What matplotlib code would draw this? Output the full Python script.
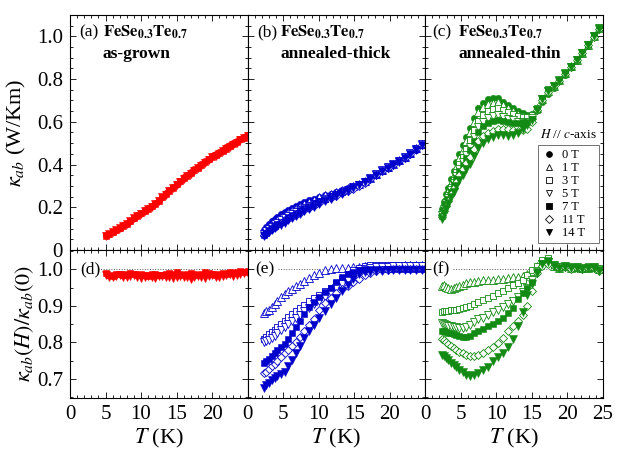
import matplotlib
matplotlib.use('Agg')
import matplotlib.pyplot as plt
from matplotlib.lines import Line2D
from matplotlib.ticker import MultipleLocator, FixedLocator

plt.rcParams['font.family'] = ['Liberation Serif', 'DejaVu Serif']
plt.rcParams['mathtext.fontset'] = 'stix'

fields = ['0 T', '1 T', '3 T', '5 T', '7 T', '11 T', '14 T']

# ---- (a)/(d) as-grown ----
T_a = [5.0, 5.5, 6.0, 6.5, 7.0, 7.5, 8.0, 8.5, 9.0, 9.5, 10.0, 10.5, 11.0, 11.5, 12.0, 12.5,
       13.0, 13.5, 14.0, 14.5, 15.0, 15.5, 16.0, 16.5, 17.0, 17.5, 18.0, 18.5, 19.0, 19.5,
       20.0, 20.5, 21.0, 21.5, 22.0, 22.5, 23.0, 23.5, 24.0, 24.5, 25.0]
k0_a = [0.068, 0.075, 0.085, 0.095, 0.105, 0.115, 0.125, 0.137, 0.150, 0.162, 0.175, 0.185,
        0.195, 0.207, 0.220, 0.235, 0.250, 0.265, 0.280, 0.295, 0.310, 0.325, 0.340, 0.352,
        0.365, 0.378, 0.390, 0.403, 0.415, 0.428, 0.440, 0.450, 0.460, 0.470, 0.480, 0.490,
        0.500, 0.510, 0.520, 0.530, 0.540]
r7_a = [0.990, 0.985, 0.983, 0.986, 0.988, 0.985, 0.987, 0.990, 0.986, 0.984, 0.988, 0.985,
        0.983, 0.986, 0.988, 0.985, 0.984, 0.987, 0.990, 0.986, 0.992, 0.988, 0.985, 0.987,
        0.990, 0.988, 0.985, 0.987, 0.992, 0.990, 0.986, 0.984, 0.988, 0.990, 0.987, 0.993,
        0.990, 0.992, 0.995, 0.993, 0.996]
r14_a = [0.985, 0.980, 0.978, 0.982, 0.984, 0.980, 0.978, 0.983, 0.985, 0.980, 0.976, 0.979,
         0.982, 0.980, 0.977, 0.981, 0.983, 0.978, 0.980, 0.976, 0.979, 0.982, 0.980, 0.978,
         0.975, 0.980, 0.983, 0.979, 0.977, 0.981, 0.985, 0.980, 0.978, 0.982, 0.984, 0.986,
         0.983, 0.985, 0.988, 0.990, 0.990]

# ---- (b)/(e) annealed-thick ----
T_b = [2.3, 2.6, 3.0, 3.4, 3.8, 4.2, 4.7, 5.2, 5.7, 6.2, 6.8, 7.4, 8.0, 8.7, 9.4, 10.1, 10.9,
       11.7, 12.5, 13.3, 14.1, 14.9, 15.7, 16.5, 17.3, 18.1, 18.9, 19.7, 20.5, 21.3, 22.1,
       22.9, 23.7, 24.5]
k0_b = [0.095, 0.108, 0.122, 0.135, 0.146, 0.156, 0.167, 0.178, 0.188, 0.197, 0.206, 0.215,
        0.223, 0.232, 0.240, 0.248, 0.256, 0.264, 0.272, 0.280, 0.289, 0.298, 0.308, 0.320,
        0.335, 0.352, 0.370, 0.385, 0.400, 0.415, 0.432, 0.450, 0.470, 0.490]
r1_b = [0.880, 0.885, 0.890, 0.896, 0.905, 0.914, 0.924, 0.933, 0.940, 0.947, 0.954, 0.961,
        0.969, 0.976, 0.984, 0.991, 0.997, 1.000, 1.003, 1.004, 1.005, 1.006, 1.007, 1.008,
        1.008, 1.008, 1.009, 1.010, 1.010, 1.010, 1.011, 1.011, 1.012, 1.012]
r3_b = [0.810, 0.816, 0.822, 0.828, 0.835, 0.842, 0.850, 0.860, 0.869, 0.877, 0.886, 0.895,
        0.903, 0.913, 0.922, 0.930, 0.940, 0.950, 0.962, 0.975, 0.988, 0.998, 1.005, 1.010,
        1.012, 1.011, 1.012, 1.012, 1.011, 1.012, 1.012, 1.011, 1.012, 1.012]
r5_b = [0.800, 0.803, 0.807, 0.812, 0.818, 0.825, 0.833, 0.842, 0.850, 0.858, 0.867, 0.876,
        0.885, 0.895, 0.905, 0.914, 0.925, 0.935, 0.948, 0.960, 0.972, 0.985, 0.995, 1.000,
        1.005, 1.006, 1.007, 1.007, 1.008, 1.008, 1.008, 1.009, 1.008, 1.009]
r7_b = [0.745, 0.750, 0.755, 0.762, 0.770, 0.778, 0.787, 0.797, 0.810, 0.825, 0.842, 0.860,
        0.878, 0.897, 0.912, 0.925, 0.938, 0.950, 0.965, 0.978, 0.988, 0.993, 0.998, 1.000,
        1.001, 1.000, 1.001, 1.002, 1.001, 1.002, 1.002, 1.001, 1.002, 1.002]
r11_b = [0.716, 0.720, 0.727, 0.735, 0.742, 0.750, 0.760, 0.770, 0.780, 0.790, 0.800, 0.814,
         0.830, 0.848, 0.865, 0.888, 0.908, 0.923, 0.935, 0.945, 0.955, 0.965, 0.975, 0.985,
         0.990, 0.995, 0.997, 0.999, 1.000, 1.001, 1.001, 1.002, 1.001, 1.002]
r14_b = [0.675, 0.683, 0.690, 0.697, 0.703, 0.708, 0.713, 0.720, 0.735, 0.752, 0.770, 0.790,
         0.812, 0.830, 0.848, 0.866, 0.887, 0.905, 0.923, 0.940, 0.957, 0.975, 0.988, 0.992,
         0.994, 0.995, 0.996, 0.997, 0.997, 0.998, 0.998, 0.998, 0.999, 0.999]

# ---- (c)/(f) annealed-thin ----
T_c = [2.3, 2.6, 2.9, 3.2, 3.6, 4.0, 4.4, 4.8, 5.3, 5.8, 6.3, 6.9, 7.5, 8.1, 8.8, 9.5, 10.2,
       10.9, 11.6, 12.3, 13.0, 13.7, 14.4, 15.1, 15.8, 16.5, 17.3, 18.1, 18.9, 19.7, 20.5,
       21.3, 22.1, 22.9, 23.7, 24.5]
k0_c = [0.19, 0.225, 0.26, 0.29, 0.33, 0.37, 0.41, 0.45, 0.49, 0.53, 0.57, 0.62, 0.665, 0.69,
        0.705, 0.71, 0.71, 0.695, 0.68, 0.665, 0.65, 0.64, 0.63, 0.635, 0.66, 0.695, 0.73,
        0.76, 0.79, 0.82, 0.855, 0.885, 0.92, 0.955, 0.995, 1.04]
r1_c = [0.955, 0.957, 0.952, 0.948, 0.945, 0.948, 0.952, 0.955, 0.958, 0.962, 0.965, 0.966,
        0.968, 0.970, 0.971, 0.972, 0.973, 0.975, 0.976, 0.978, 0.980, 0.983, 0.987, 0.995,
        1.010, 1.020, 1.020, 1.010, 1.005, 1.008, 1.005, 1.006, 1.004, 1.005, 1.006, 1.000]
r3_c = [0.884, 0.886, 0.885, 0.887, 0.888, 0.889, 0.890, 0.892, 0.893, 0.896, 0.900, 0.905,
        0.910, 0.915, 0.922, 0.928, 0.935, 0.940, 0.948, 0.956, 0.962, 0.972, 0.985, 0.998,
        1.010, 1.025, 1.030, 1.015, 1.010, 1.012, 1.008, 1.010, 1.006, 1.008, 1.010, 1.003]
r5_c = [0.852, 0.850, 0.848, 0.846, 0.845, 0.843, 0.842, 0.840, 0.840, 0.842, 0.848, 0.856,
        0.863, 0.868, 0.875, 0.882, 0.890, 0.898, 0.905, 0.913, 0.925, 0.937, 0.948, 0.970,
        0.995, 1.015, 1.020, 1.012, 1.006, 1.008, 1.004, 1.006, 1.002, 1.005, 1.006, 0.999]
r7_c = [0.832, 0.830, 0.828, 0.826, 0.825, 0.823, 0.821, 0.818, 0.816, 0.814, 0.818, 0.826,
        0.832, 0.838, 0.844, 0.850, 0.858, 0.868, 0.880, 0.895, 0.918, 0.935, 0.948, 0.965,
        0.995, 1.015, 1.025, 1.012, 1.005, 1.008, 1.004, 1.006, 1.002, 1.004, 1.006, 0.998]
r11_c = [0.810, 0.807, 0.800, 0.795, 0.790, 0.785, 0.780, 0.775, 0.770, 0.765, 0.762, 0.762,
         0.765, 0.770, 0.778, 0.787, 0.798, 0.812, 0.830, 0.845, 0.858, 0.875, 0.900, 0.940,
         0.990, 1.010, 1.015, 1.008, 1.003, 1.006, 1.002, 1.004, 1.000, 1.003, 1.004, 0.996]
r14_c = [0.766, 0.762, 0.757, 0.752, 0.745, 0.738, 0.732, 0.725, 0.718, 0.712, 0.707, 0.710,
         0.716, 0.724, 0.734, 0.748, 0.760, 0.772, 0.787, 0.810, 0.845, 0.884, 0.930, 0.960,
         0.990, 1.015, 1.020, 1.010, 1.004, 1.007, 1.003, 1.005, 1.000, 1.003, 1.005, 0.995]

styles = {
    '0 T': ('o', True, 4.6),
    '1 T': ('^', False, 5.2),
    '3 T': ('s', False, 4.2),
    '5 T': ('v', False, 5.2),
    '7 T': ('s', True, 4.6),
    '11 T': ('D', False, 4.0),
    '14 T': ('v', True, 5.4),
}

red, blue, green = '#ff0000', '#0000cc', '#138a13'

fig = plt.figure(figsize=(6.19, 4.54), dpi=100)
W, H = 619.0, 454.0
left0, pw = 70 / W, 177.6 / W
top_b, top_h = 1 - 250 / H, 235 / H
bot_b, bot_h = 1 - 398 / H, 148 / H

axes_top, axes_bot = [], []
for i in range(3):
    at = fig.add_axes([left0 + i * pw, top_b, pw, top_h])
    ab = fig.add_axes([left0 + i * pw, bot_b, pw, bot_h])
    axes_top.append(at)
    axes_bot.append(ab)


def draw(ax, T, vals, field, color):
    m, filled, ms = styles[field]
    if filled:
        ax.plot(T, vals, ls='none', marker=m, ms=ms, mfc=color, mec=color, mew=0.4)
    else:
        ax.plot(T, vals, ls='none', marker=m, ms=ms, mfc='white', mec=color, mew=0.6)


# (a)/(d)
draw(axes_top[0], T_a, k0_a, '0 T', red)
draw(axes_top[0], T_a, [k * r for k, r in zip(k0_a, r7_a)], '7 T', red)
draw(axes_top[0], T_a, [k * r for k, r in zip(k0_a, r14_a)], '14 T', red)
draw(axes_bot[0], T_a, r7_a, '7 T', red)
draw(axes_bot[0], T_a, r14_a, '14 T', red)

# (b)/(e)
ratios_b = {'1 T': r1_b, '3 T': r3_b, '5 T': r5_b, '7 T': r7_b, '11 T': r11_b, '14 T': r14_b}
draw(axes_top[1], T_b, k0_b, '0 T', blue)
for f in fields[1:]:
    draw(axes_top[1], T_b, [k * r for k, r in zip(k0_b, ratios_b[f])], f, blue)
    draw(axes_bot[1], T_b, ratios_b[f], f, blue)

# (c)/(f)
ratios_c = {'1 T': r1_c, '3 T': r3_c, '5 T': r5_c, '7 T': r7_c, '11 T': r11_c, '14 T': r14_c}
draw(axes_top[2], T_c, k0_c, '0 T', green)
for f in fields[1:]:
    draw(axes_top[2], T_c, [k * r for k, r in zip(k0_c, ratios_c[f])], f, green)
    draw(axes_bot[2], T_c, ratios_c[f], f, green)

tick_fs = 15
for i, (at, ab) in enumerate(zip(axes_top, axes_bot)):
    for ax in (at, ab):
        ax.set_xlim(0, 25)
        ax.xaxis.set_major_locator(MultipleLocator(5))
        ax.xaxis.set_minor_locator(MultipleLocator(1))
        ax.tick_params(which='both', direction='in', top=True, right=True, width=0.6,
                       labelsize=tick_fs, pad=5)
        ax.tick_params(which='major', length=4)
        ax.tick_params(which='minor', length=2.2)
        for s in ax.spines.values():
            s.set_linewidth(0.8)
    at.set_ylim(0, 1.1)
    at.yaxis.set_major_locator(FixedLocator([0, 0.2, 0.4, 0.6, 0.8, 1.0]))
    at.yaxis.set_minor_locator(MultipleLocator(0.05))
    ab.set_ylim(0.648, 1.053)
    ab.yaxis.set_major_locator(FixedLocator([0.7, 0.8, 0.9, 1.0]))
    ab.yaxis.set_minor_locator(MultipleLocator(0.05))
    at.tick_params(labelbottom=False)
    if i < 2:
        ab.set_xticks([0, 5, 10, 15, 20])
        ab.xaxis.set_minor_locator(MultipleLocator(1))
    else:
        ab.set_xticks([0, 5, 10, 15, 20, 25])
    if i > 0:
        at.tick_params(labelleft=False)
        ab.tick_params(labelleft=False)
    ab.set_xlabel(r'$T$ (K)', fontsize=16, labelpad=2)

axes_top[0].set_yticklabels(['0', '0.2', '0.4', '0.6', '0.8', '1.0'])
axes_bot[0].set_yticklabels(['0.7', '0.8', '0.9', '1.0'])
axes_top[0].set_ylabel(r'$\kappa_{ab}$ (W/Km)', fontsize=16)
axes_bot[0].set_ylabel(r'$\kappa_{ab}(H)/\kappa_{ab}(0)$', fontsize=16)
axes_top[0].yaxis.set_label_coords(-0.236, 0.5)
axes_bot[0].yaxis.set_label_coords(-0.19, 0.5)

# panel annotations
ann_fs = 12.5
labels = [('(a)', 'as-grown', 0.05), ('(b)', 'annealed-thick', 0.055), ('(c)', 'annealed-thin', 0.041)]
for ax, (lab, sub, x0) in zip(axes_top, labels):
    ax.text(x0, 0.91, lab, transform=ax.transAxes, fontsize=ann_fs, va='baseline')
    ax.text(0.185, 0.91, r'$\mathbf{FeSe_{0.3}Te_{0.7}}$', transform=ax.transAxes,
            fontsize=12, va='baseline')
    ax.text(0.185, 0.815, sub, transform=ax.transAxes, fontsize=ann_fs, fontweight='bold',
            va='baseline')

for ax, lab, x0, xs in zip(axes_bot, ['(d)', '(e)', '(f)'], [0.056, 0.045, 0.04], [4.0, 4.3, 3.9]):
    ax.text(x0, 1.0, lab, transform=ax.get_yaxis_transform(), fontsize=12.5, va='center')
    ax.plot([xs, 25], [1.0, 1.0], ls=':', color='0.35', lw=0.7, zorder=0)

# legend
handles = []
for f in fields:
    m, filled, ms = styles[f]
    handles.append(Line2D([], [], ls='none', marker=m, ms=ms * 0.9, mec='k',
                          mfc='k' if filled else 'white', mew=0.6))
leg = axes_top[2].legend(handles, fields, loc='lower left',
                         bbox_to_anchor=(0.636, 0.03, 0.344, 0.41), mode='expand',
                         fontsize=9, frameon=True, fancybox=False, edgecolor='0.2',
                         labelspacing=0.08, handlelength=1.1, handletextpad=0.5,
                         borderpad=0.3, borderaxespad=0.0)
leg.get_frame().set_linewidth(0.6)
axes_top[2].text(0.805, 0.49, r'$H$ // $c$-axis', transform=axes_top[2].transAxes,
                 ha='center', va='center', fontsize=9.5)

fig.savefig('out.png', dpi=100)
